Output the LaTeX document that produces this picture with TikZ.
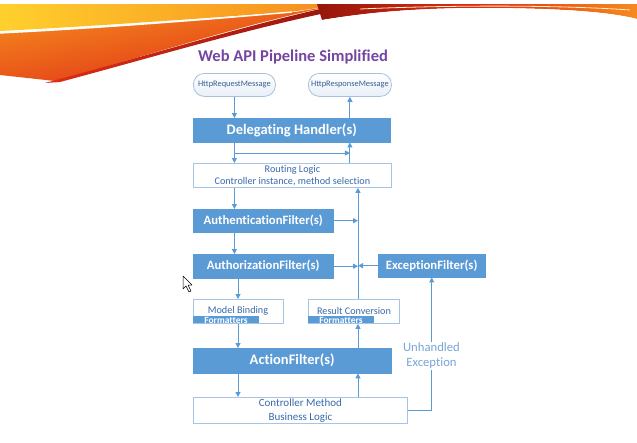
\documentclass[tikz,border=0pt]{standalone}
\usepackage{fontspec}
\setmainfont{Carlito}[Ligatures=NoCommon]
\usetikzlibrary{arrows.meta}

\definecolor{boxblue}{RGB}{91,155,213}
\definecolor{paleedge}{RGB}{165,196,230}
\definecolor{paletext}{RGB}{58,106,170}
\definecolor{ovaledge}{RGB}{170,192,218}
\definecolor{ovaltext}{RGB}{55,95,145}
\definecolor{titlepurple}{RGB}{116,70,162}
\definecolor{notetext}{RGB}{120,165,215}
\definecolor{swyellow}{RGB}{255,208,45}
\definecolor{sworange}{RGB}{246,138,30}
\definecolor{swred}{RGB}{222,45,22}
\definecolor{swdark}{RGB}{150,22,12}

\newcommand{\fs}[2]{\fontsize{#1}{#2}\selectfont}

\begin{document}
\begin{tikzpicture}[x=1pt,y=-1pt,
  solidbox/.style={draw=boxblue, fill=boxblue, text=white, inner sep=0pt,
    anchor=north west, font=\bfseries\fs{12.7}{15}},
  palebox/.style={draw=paleedge, fill=white, text=paletext, inner sep=0pt,
    anchor=north west, align=center, line width=0.8pt},
  fmtbar/.style={fill=boxblue, text=white, inner sep=0pt, anchor=north west,
    font=\bfseries\fs{9.5}{10}},
  msgoval/.style={draw=ovaledge, top color=white, bottom color={rgb,255:red,232;green,239;blue,247},
    rounded corners=11pt, text=ovaltext, inner sep=0pt, anchor=north west,
    font=\fs{8.4}{10}, line width=0.8pt},
  arr/.style={draw=boxblue, line width=1pt, -{Triangle[length=5pt,width=5pt]}},
  wire/.style={draw=boxblue, line width=1pt}
]
\useasboundingbox (0,0) rectangle (637,442);
\fill[white] (0,0) rectangle (637,442);

% decorative banner across the top
\shade[left color=swyellow, right color=sworange]
  (0,4) -- (345,4) -- (290,12) .. controls (180,20) and (80,27) .. (0,31) -- cycle;
\shade[top color=sworange, bottom color=swred, shading angle=10]
  (0,33) .. controls (80,29) and (180,22) .. (295,12) -- (338,5)
  .. controls (250,22) and (150,55) .. (55,81) -- (0,75) -- cycle;
\shade[left color=swred, right color=swdark]
  (45,83) .. controls (150,55) and (250,24) .. (338,5)
  -- (340,10) .. controls (250,28) and (150,58) .. (60,82) -- cycle;
\shade[left color=swdark, right color=sworange, middle color=swred]
  (317,4) -- (637,4) -- (637,19) .. controls (610,12) and (560,8) .. (480,8)
  .. controls (420,8) and (370,12) .. (322,20) -- cycle;
\fill[white] (637,19) .. controls (610,12) and (560,8) .. (480,8)
  .. controls (420,8) and (370,12) .. (322,20) -- (340,22) .. controls (400,14) and (440,12) .. (480,12)
  .. controls (560,12) and (610,16) .. (637,22) -- cycle;
\draw[white, line width=1.4pt] (0,33) .. controls (80,29) and (180,22) .. (292,12);
\draw[white!70!swyellow, line width=0.8pt] (360,9) .. controls (450,5) and (560,5) .. (630,10);

% title
\node[text=titlepurple, font=\bfseries\fs{16.5}{18}] (title) at (293,57)
  {Web API Pipeline Simplified};

% messages
\node[msgoval, minimum width=82pt, minimum height=23pt] (req) at (193,73) {HttpRequestMessage};
\node[msgoval, minimum width=83pt, minimum height=23pt] (resp) at (308,73) {HttpResponseMessage};

% pipeline stages
\node[solidbox, minimum width=197pt, minimum height=24pt, font=\bfseries\fs{14.5}{16}] (deleg) at (193,118) {Delegating Handler(s)};
\node[palebox, minimum width=198pt, minimum height=24pt, font=\fs{10.2}{12}] (routing) at (193,163)
  {Routing Logic\\Controller instance, method selection};
\node[solidbox, minimum width=140pt, minimum height=23pt] (auth) at (193,209) {AuthenticationFilter(s)};
\node[solidbox, minimum width=140pt, minimum height=24pt] (authz) at (193,254) {AuthorizationFilter(s)};
\node[solidbox, minimum width=107pt, minimum height=23pt] (exc) at (378,254) {ExceptionFilter(s)};

\node[palebox, minimum width=90pt, minimum height=24pt] (model) at (193,299) {};
\node[fmtbar, minimum width=66pt, minimum height=7pt] (modelfmt) at (193,316) {};
\node[text=paletext, font=\fs{10.2}{12}] (modeltxt) at (238,311) {Model Binding};
\node[text=white, font=\bfseries\fs{9.5}{10}] (modelfmttxt) at (226,320) {Formatters};

\node[palebox, minimum width=91pt, minimum height=24pt] (result) at (308,299) {};
\node[fmtbar, minimum width=66pt, minimum height=7pt] (resultfmt) at (308,316) {};
\node[text=paletext, font=\fs{10.2}{12}] (resulttxt) at (354,311) {Result Conversion};
\node[text=white, font=\bfseries\fs{9.5}{10}] (resultfmttxt) at (341,320) {Formatters};

\node[solidbox, minimum width=198pt, minimum height=25pt, font=\bfseries\fs{14.5}{16}] (action) at (193,348) {ActionFilter(s)};
\node[palebox, minimum width=214pt, minimum height=26pt, font=\fs{11}{14}] (ctrl) at (193,397)
  {Controller Method\\Business Logic};

% column positions for the connectors
\coordinate (bus) at (358,0);
\coordinate (lowcol) at (238,0);
\coordinate (split) at (235,153);

% request path (down the left column)
\draw[arr] (req.south) -- (req.south |- deleg.north);
\draw[arr] (deleg.south -| req) -- (routing.north -| req);
\draw[arr] (split) -- (split -| resp);
\draw[arr] (routing.south -| req) -- (auth.north -| req);
\draw[arr] (auth.south -| req) -- (authz.north -| req);
\draw[arr] (authz.south -| lowcol) -- (model.north -| lowcol);
\draw[arr] (model.south -| lowcol) -- (action.north -| lowcol);
\draw[arr] (action.south -| lowcol) -- (ctrl.north -| lowcol);

% response path (up the right columns)
\draw[arr] (ctrl.north -| bus) -- (action.south -| bus);
\draw[arr] (action.north -| bus) -- (result.south -| bus);
\draw[arr] (result.north -| bus) -- (routing.south -| bus);
\draw[arr] (routing.north -| resp) -- (deleg.south -| resp);
\draw[arr] (deleg.north -| resp) -- (resp.south);

% filters short-circuiting into the response path
\draw[arr] (auth.east) -- (auth.east -| bus);
\draw[arr] (authz.east) -- (authz.east -| bus);
\draw[arr] (exc.west) -- (exc.west -| bus);

% unhandled exception route
\draw[arr] (ctrl.east) -- (ctrl.east -| exc) -- (exc.south);
\node[fill=white, text=notetext, align=center, inner sep=1pt, font=\fs{12.7}{15}] (unh) at (431.5,356)
  {Unhandled\\Exception};

% mouse pointer
\draw[black, fill=white, line width=0.5pt, line join=round] (183,276) -- (183,289) -- (186,286) -- (189,292)
  -- (191,291) -- (188,285) -- (192,285) -- cycle;
\end{tikzpicture}
\end{document}
